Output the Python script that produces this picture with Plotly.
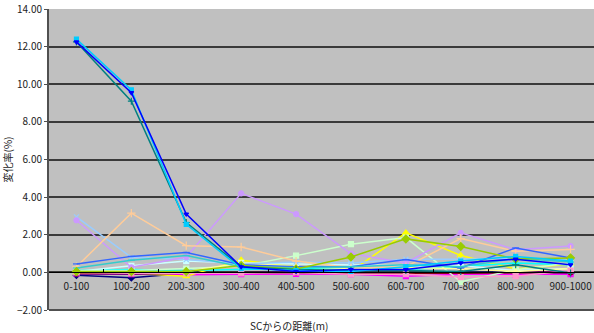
import plotly.graph_objects as go

# Distance bands from the SC (m)
categories = ["0-100", "100-200", "200-300", "300-400", "400-500",
              "500-600", "600-700", "700-800", "800-900", "900-1000"]

# Change rate (%) per series
s_navy = [-0.15, -0.28, -0.05, 0.00, 0.02, 0.00, -0.05, 0.00, 0.02, -0.05]
s_magenta = [-0.05, -0.10, -0.12, -0.10, -0.08, -0.10, -0.20, -0.10, -0.12, -0.10]
s_yellow = [-0.03, -0.05, -0.20, 0.65, 0.30, 0.05, 2.10, 0.90, 0.18, 0.45]
s_cyan = [0.10, 0.15, 0.10, 0.15, 0.20, 0.20, 0.15, 0.30, 0.50, 0.40]
s_purple = [-0.08, -0.10, -0.05, -0.02, 0.00, -0.05, -0.05, -0.05, 0.00, 0.05]
s_maroon = [-0.05, -0.05, -0.03, 0.00, 0.00, -0.02, -0.05, -0.03, -0.02, 0.00]
s_teal = [12.25, 9.10, 2.65, 0.30, 0.15, 0.10, 0.10, 0.05, 0.40, -0.03]
s_blue = [12.25, 9.55, 3.10, 0.30, 0.05, 0.15, 0.15, 0.50, 0.70, 0.40]
s_sky = [12.40, 9.70, 2.55, 0.20, 0.10, 0.05, 0.30, 0.60, 0.85, 0.60]
s_paleturq = [0.05, 0.35, 0.60, 0.50, 0.45, 0.40, 0.35, 0.35, 0.10, 0.20]
s_palegreen = [0.10, 0.10, 0.20, 0.32, 0.89, 1.50, 1.85, -0.50, 0.14, 0.50]
s_paleyellow = [0.00, 0.02, 0.05, 0.50, 0.30, 0.20, 0.25, 0.20, 0.05, 0.20]
s_paleblue = [2.95, 0.80, 0.68, 0.45, 0.55, 0.50, 0.70, 0.70, 0.75, 0.65]
s_rose = [0.00, -0.05, -0.05, -0.05, 0.00, -0.10, -0.10, -0.25, -0.20, 0.10]
s_lavender = [2.77, 0.27, 0.82, 4.20, 3.10, 1.00, 0.50, 2.10, 1.20, 1.40]
s_tan = [0.30, 3.15, 1.42, 1.35, 0.60, 0.25, 0.30, 1.80, 1.12, 1.22]
s_lightblue = [0.45, 0.85, 1.06, 0.40, 0.30, 0.30, 0.68, 0.23, 1.30, 0.77]
s_aqua = [0.23, 0.65, 0.90, 0.30, 0.25, 0.30, 0.40, 0.30, 0.75, 0.55]
s_lime = [0.04, 0.04, 0.05, 0.36, 0.18, 0.82, 1.78, 1.38, 0.71, 0.77]

# (values, colour, marker symbol, marker size)
series = [
    (s_navy, "#000080", "diamond", 5),
    (s_magenta, "#FF00FF", "square", 5),
    (s_yellow, "#FFFF00", "triangle-up", 6),
    (s_cyan, "#00FFFF", "x-thin", 5),
    (s_purple, "#800080", "asterisk", 5),
    (s_maroon, "#800000", "circle", 5),
    (s_paleturq, "#CCFFFF", "square", 5),
    (s_palegreen, "#CCFFCC", "square", 5),
    (s_paleyellow, "#FFFF99", "triangle-up", 5),
    (s_paleblue, "#99CCFF", "x-thin", 5),
    (s_rose, "#FF99CC", "square", 5),
    (s_lavender, "#CC99FF", "circle", 5),
    (s_tan, "#FFCC99", "cross-thin", 6),
    (s_lightblue, "#3366FF", "line-ew", 5),
    (s_aqua, "#33CCCC", "line-ew", 5),
    (s_lime, "#99CC00", "diamond", 6),
    (s_teal, "#008080", "cross-thin", 5),
    (s_sky, "#00CCFF", "square", 4),
    (s_blue, "#0000FF", "triangle-down", 4),
]

fig = go.Figure()
for vals, color, sym, size in series:
    fig.add_trace(go.Scatter(
        x=categories, y=vals, mode="lines+markers",
        line=dict(color=color, width=1.5),
        marker=dict(color=color, symbol=sym, size=size,
                    line=dict(color=color, width=1.2)),
        showlegend=False, hoverinfo="skip",
    ))

font_family = "Noto Sans CJK JP, Noto Sans, sans-serif"

fig.update_layout(
    width=594, height=333,
    margin=dict(l=49, r=0, t=9, b=23),
    paper_bgcolor="white",
    plot_bgcolor="#C0C0C0",
    font=dict(family=font_family, size=10, color="#222222"),
    xaxis=dict(
        type="category",
        range=[-0.5, 9.427],
        anchor="free", position=0.125,
        showline=True, linecolor="black", linewidth=1,
        showgrid=False,
        tickson="boundaries",
        ticks="inside", ticklen=3, tickcolor="black",
        ticklabelstandoff=5,
        tickfont=dict(size=10, color="#222222"),
    ),
    yaxis=dict(
        range=[-2, 14], dtick=2, tickformat=".2f",
        showgrid=True, gridcolor="#3a3a3a", gridwidth=1.5,
        zeroline=False,
        showline=True, linecolor="#505050", linewidth=2,
        ticks="outside", ticklen=3, tickcolor="#505050",
        tickfont=dict(size=10, color="#222222"),
        title=dict(text="変化率(%)", font=dict(size=10), standoff=6),
    ),
    annotations=[
        dict(text="SCからの距離(m)", xref="paper", yref="paper",
             x=0.44, y=-0.05, xanchor="center", yanchor="middle",
             showarrow=False, font=dict(size=10, color="#222222")),
    ],
)

# Bottom border of the plotting region
fig.add_shape(type="line", xref="paper", yref="paper", x0=0, x1=1, y0=0, y1=0,
              line=dict(color="#505050", width=2))

fig.write_html("out.html")
